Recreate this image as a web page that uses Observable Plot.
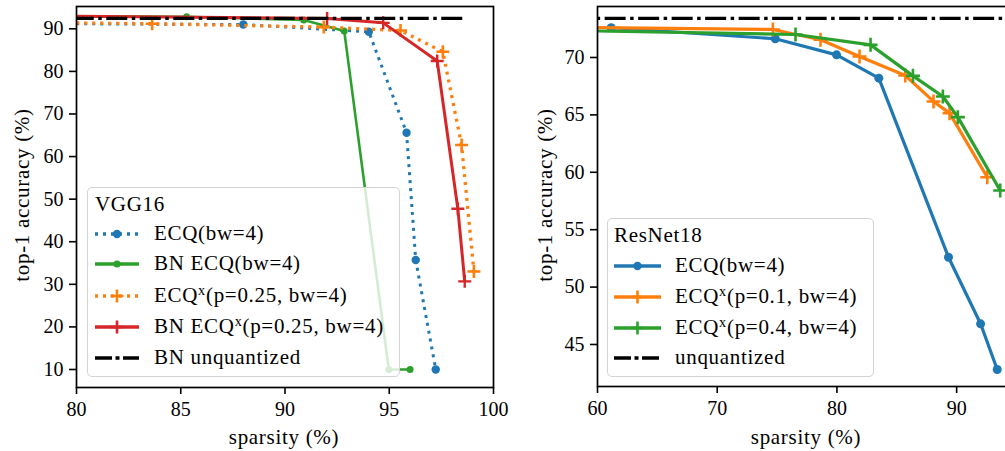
<!DOCTYPE html>
<html><head><meta charset="utf-8">
<script src="https://cdn.jsdelivr.net/npm/d3@7"></script>
<script src="https://cdn.jsdelivr.net/npm/@observablehq/plot@0.6"></script>
<style>
html,body{margin:0;padding:0;background:#fff;overflow:hidden;width:1005px;height:451px;}
#wrap{position:relative;width:1005px;height:451px;overflow:hidden;font-family:"Liberation Serif","Times New Roman",serif;color:#000;}
.panel{position:absolute;top:0;}
.lab{position:absolute;font-size:21px;line-height:20px;letter-spacing:0.7px;white-space:nowrap;}
.legend{position:absolute;background:rgba(255,255,255,0.8);border:1.3px solid #d3d3d3;border-radius:5px;box-sizing:border-box;font-size:21px;letter-spacing:0.7px;}
.legend .t,.legend .row{position:absolute;line-height:20px;white-space:nowrap;}
.legend svg{position:absolute;overflow:visible;}
sup{font-size:0.68em;line-height:0;vertical-align:0.5em;}
</style></head>
<body><div id="wrap"></div>
<script>
// ---------- VGG16 data ----------
const vggEcqX = [75, 88.0, 94.02, 95.83, 96.27, 97.23];
const vggEcqY = [91.3, 91.0, 89.3, 65.6, 35.7, 10.0];
const vggBnEcqX = [75, 85.28, 90.9, 92.84, 94.98, 96.0];
const vggBnEcqY = [93.0, 92.84, 92.06, 89.5, 10.0, 10.0];
const vggEcqxX = [75, 83.63, 91.86, 95.54, 97.57, 98.47, 99.06];
const vggEcqxY = [91.6, 91.2, 90.4, 89.6, 84.6, 62.7, 33.0];
const vggBnEcqxX = [75, 92.02, 94.71, 97.3, 98.29, 98.62];
const vggBnEcqxY = [93.2, 92.44, 91.4, 82.45, 47.75, 30.7];
const vggUnqX = [75, 98.66];
const vggUnqY = [92.44, 92.44];
const vggXTicks = [80, 85, 90, 95, 100];
const vggYTicks = [10, 20, 30, 40, 50, 60, 70, 80, 90];

// ---------- ResNet18 data ----------
const resEcqX = [61.14, 74.85, 79.97, 83.5, 89.32, 92.0, 93.39];
const resEcqY = [72.59, 71.63, 70.23, 68.2, 52.6, 46.8, 42.82];
const resEcqx1X = [55, 74.65, 78.63, 81.89, 85.71, 88.07, 89.41, 92.56];
const resEcqx1Y = [72.65, 72.44, 71.54, 70.09, 68.43, 66.17, 65.15, 59.57];
const resEcqx4X = [55, 76.54, 82.81, 86.35, 88.85, 90.1, 93.64];
const resEcqx4Y = [72.4, 72.0, 71.1, 68.4, 66.6, 64.8, 58.41];
const resUnqX = [55, 100];
const resUnqY = [73.4, 73.4];
const resXTicks = [60, 70, 80, 90];
const resYTicks = [45, 50, 55, 60, 65, 70];

const C = {blue:"#1f77b4", orange:"#ff7f0e", green:"#2ca02c", red:"#d62728"};
const pts = (xs, ys) => xs.map((x, i) => ({x, y: ys[i]}));
const plusSym = {draw(ctx, size){ const r = Math.sqrt(size/Math.PI); ctx.moveTo(-r,0); ctx.lineTo(r,0); ctx.moveTo(0,-r); ctx.lineTo(0,r); }};
const DOT = "3,5", DASHDOT = "21,4.5,3.5,4.5";
const FONT = "'Liberation Serif','Times New Roman',serif";

function series(data, {color, sw, dash, marker, r, msw}) {
  const m = [Plot.line(data, {x:"x", y:"y", stroke: color, strokeWidth: sw, strokeDasharray: dash, strokeLinecap:"butt", strokeLinejoin:"round", clip: true})];
  if (marker === "o") m.push(Plot.dot(data, {x:"x", y:"y", fill: color, r, clip: true}));
  if (marker === "+") m.push(Plot.dot(data, {x:"x", y:"y", symbol: plusSym, r, fill:"none", stroke: color, strokeWidth: msw, strokeLinecap:"butt", clip: true}));
  return m;
}
const axStyle = {fontFamily: FONT, fontSize:"20px", color:"black", background:"transparent", overflow:"visible"};

const wrap = document.getElementById("wrap");

// ---------- Left panel ----------
const left = Plot.plot({
  width: 505, height: 451, marginLeft: 76, marginRight: 12, marginTop: 6, marginBottom: 64,
  x: {domain: [80, 100]}, y: {domain: [5.77, 95.24]},
  style: axStyle,
  marks: [
    ...series(pts(vggEcqX, vggEcqY), {color:C.blue, sw:3, dash:DOT, marker:"o", r:4.2}),
    ...series(pts(vggBnEcqX, vggBnEcqY), {color:C.green, sw:2.6, marker:"o", r:3.5}),
    ...series(pts(vggEcqxX, vggEcqxY), {color:C.orange, sw:3.3, dash:DOT, marker:"+", r:6.5, msw:2.6}),
    ...series(pts(vggBnEcqxX, vggBnEcqxY), {color:C.red, sw:3, marker:"+", r:6.5, msw:2.4}),
    ...series(pts(vggUnqX, vggUnqY), {color:"black", sw:3.3, dash:DASHDOT}),
    Plot.axisX({ticks: vggXTicks, tickSize: 7, tickPadding: 7, strokeWidth: 1.6, label: null, tickFormat: d => String(d), fontFamily: FONT}),
    Plot.axisY({ticks: vggYTicks, tickSize: 7, tickPadding: 6, strokeWidth: 1.6, label: null, tickFormat: d => String(d), fontFamily: FONT}),
    Plot.frame({stroke:"black", strokeWidth: 1.7})
  ]
});
left.classList.add("panel"); left.style.left = "0px";
wrap.appendChild(left);

// ---------- Right panel ----------
const right = Plot.plot({
  width: 506, height: 451, marginLeft: 77, marginRight: 10, marginTop: 6, marginBottom: 65,
  x: {domain: [60, 95]}, y: {domain: [41.34, 74.44]},
  style: axStyle,
  marks: [
    ...series(pts(resEcqX, resEcqY), {color:C.blue, sw:3.2, marker:"o", r:4.5}),
    ...series(pts(resEcqx1X, resEcqx1Y), {color:C.orange, sw:3.2, marker:"+", r:7, msw:2.6}),
    ...series(pts(resEcqx4X, resEcqx4Y), {color:C.green, sw:3.2, marker:"+", r:7, msw:2.6}),
    ...series(pts(resUnqX, resUnqY), {color:"black", sw:3.3, dash:DASHDOT}),
    Plot.axisX({ticks: resXTicks, tickSize: 7, tickPadding: 7, strokeWidth: 1.6, label: null, tickFormat: d => String(d), fontFamily: FONT}),
    Plot.axisY({ticks: resYTicks, tickSize: 7, tickPadding: 6, strokeWidth: 1.6, label: null, tickFormat: d => String(d), fontFamily: FONT}),
    Plot.frame({stroke:"black", strokeWidth: 1.7})
  ]
});
right.classList.add("panel"); right.style.left = "520px";
wrap.appendChild(right);

// ---------- axis titles ----------
function label(text, cx, cy, rot) {
  const d = document.createElement("div");
  d.className = "lab"; d.textContent = text;
  d.style.left = cx + "px"; d.style.top = cy + "px";
  d.style.transform = "translate(-50%,-50%)" + (rot ? " rotate(-90deg)" : "");
  wrap.appendChild(d);
}
label("sparsity (%)", 284, 437, false);
label("sparsity (%)", 806, 437, false);
label("top-1 accuracy (%)", 22, 195, true);
label("top-1 accuracy (%)", 545, 195, true);

// ---------- legends ----------
function legend({left, top, width, height, title, titleY, sx0, sx1, tx, items}) {
  const L = document.createElement("div");
  L.className = "legend";
  Object.assign(L.style, {left: left+"px", top: top+"px", width: width+"px", height: height+"px"});
  const t = document.createElement("div"); t.className = "t"; t.textContent = title;
  t.style.left = (sx0) + "px"; t.style.top = (titleY - 11) + "px"; L.appendChild(t);
  for (const it of items) {
    const ns = "http://www.w3.org/2000/svg";
    const s = document.createElementNS(ns, "svg");
    s.setAttribute("width", sx1 - sx0); s.setAttribute("height", 20);
    s.style.left = sx0 + "px"; s.style.top = (it.y - 10) + "px";
    const ln = document.createElementNS(ns, "line");
    ln.setAttribute("x1", 0); ln.setAttribute("x2", sx1 - sx0); ln.setAttribute("y1", 10); ln.setAttribute("y2", 10);
    ln.setAttribute("stroke", it.color); ln.setAttribute("stroke-width", it.sw);
    if (it.dash) ln.setAttribute("stroke-dasharray", it.dash);
    s.appendChild(ln);
    const cx = (sx1 - sx0) / 2;
    if (it.marker === "o") {
      const c = document.createElementNS(ns, "circle");
      c.setAttribute("cx", cx); c.setAttribute("cy", 10); c.setAttribute("r", it.r); c.setAttribute("fill", it.color);
      s.appendChild(c);
    } else if (it.marker === "+") {
      const p = document.createElementNS(ns, "path");
      p.setAttribute("d", `M${cx-it.r},10H${cx+it.r}M${cx},${10-it.r}V${10+it.r}`);
      p.setAttribute("stroke", it.color); p.setAttribute("stroke-width", 2.6);
      s.appendChild(p);
    }
    L.appendChild(s);
    const r = document.createElement("div"); r.className = "row"; r.innerHTML = it.label;
    r.style.left = tx + "px"; r.style.top = (it.y - 11) + "px";
    L.appendChild(r);
  }
  wrap.appendChild(L);
}
const LEGDD = "17,3.5,4,3.5";
legend({left: 87, top: 187, width: 313, height: 190, title: "VGG16", titleY: 17, sx0: 7, sx1: 51, tx: 66,
  items: [
    {label: "ECQ(bw=4)", color: C.blue, sw: 3.3, dash: DOT, marker: "o", r: 4.2, y: 46},
    {label: "BN ECQ(bw=4)", color: C.green, sw: 3.3, marker: "o", r: 3.6, y: 76},
    {label: "ECQ<sup>x</sup>(p=0.25, bw=4)", color: C.orange, sw: 3.3, dash: DOT, marker: "+", r: 6.5, y: 108},
    {label: "BN ECQ<sup>x</sup>(p=0.25, bw=4)", color: C.red, sw: 3.3, marker: "+", r: 6.5, y: 139},
    {label: "BN unquantized", color: "black", sw: 3.3, dash: LEGDD, y: 170}
  ]});
legend({left: 607, top: 218, width: 267, height: 159, title: "ResNet18", titleY: 17, sx0: 6, sx1: 53, tx: 67,
  items: [
    {label: "ECQ(bw=4)", color: C.blue, sw: 3.3, marker: "o", r: 4.2, y: 47},
    {label: "ECQ<sup>x</sup>(p=0.1, bw=4)", color: C.orange, sw: 3.3, marker: "+", r: 6.5, y: 78},
    {label: "ECQ<sup>x</sup>(p=0.4, bw=4)", color: C.green, sw: 3.3, marker: "+", r: 6.5, y: 109},
    {label: "unquantized", color: "black", sw: 3.3, dash: LEGDD, y: 139}
  ]});
</script>
</body></html>
